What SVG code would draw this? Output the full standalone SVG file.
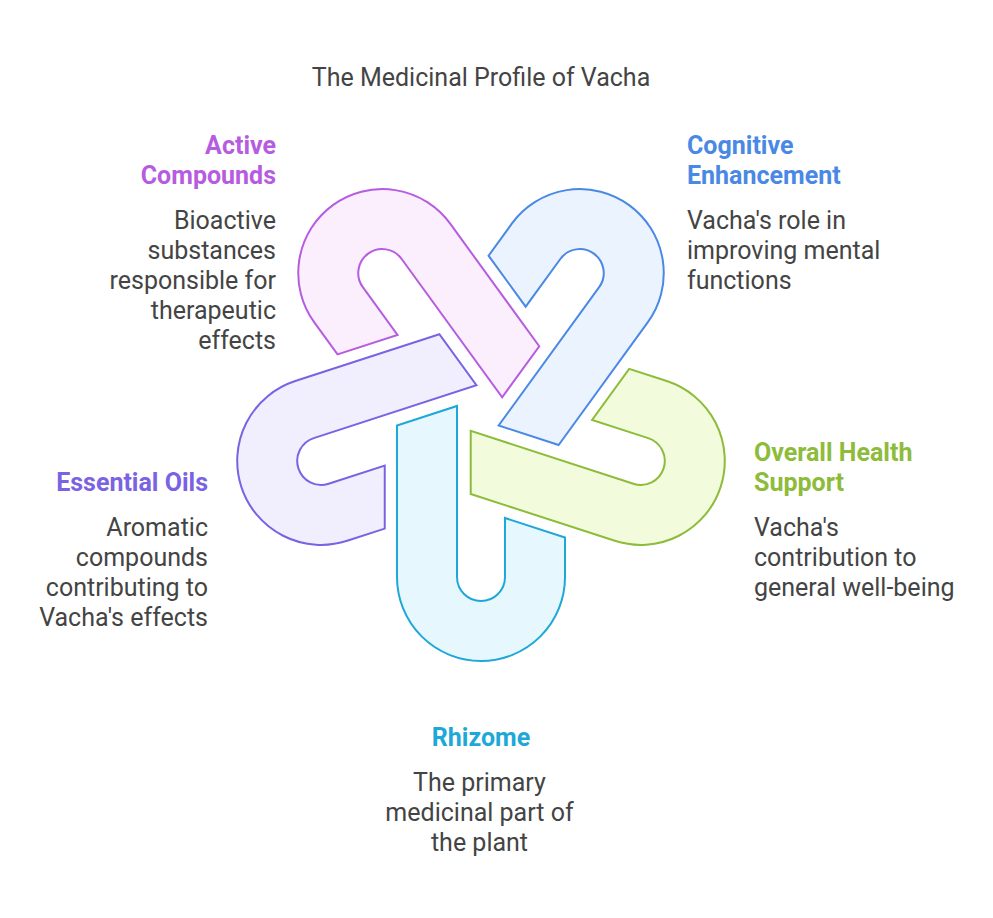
<svg xmlns="http://www.w3.org/2000/svg" width="993" height="918" viewBox="0 0 993 918">
<style>
.t{font-family:Roboto,"Liberation Sans",sans-serif;font-size:25px;fill:#444444}
.h{font-family:Roboto,"Liberation Sans",sans-serif;font-size:25px;font-weight:700}
.s{stroke-width:2;stroke-linejoin:miter}
.r{text-anchor:end}.m{text-anchor:middle}
</style>
<defs>
<path id="hook" d="M -84 16.5 L -84 168 A 84 84 0 0 0 84 168 L 84 128.5 L 24 109 L 24 168 A 24 24 0 0 1 -24 168 L -24 -3 Z"/>
</defs>
<rect width="993" height="918" fill="#ffffff"/>
<text class="t m" x="481" y="85.5">The Medicinal Profile of Vacha</text>
<g transform="translate(481,409)">
<g id="rhizome-shape"><use href="#hook" class="s" fill="#E6F7FD" stroke="#1EA8D8"/></g>
<g id="health-shape"><use href="#hook" class="s" transform="rotate(-72)" fill="#F2FCDC" stroke="#8DBB3A"/></g>
<g id="cognitive-shape"><use href="#hook" class="s" transform="rotate(-144)" fill="#EBF3FE" stroke="#4A88E5"/></g>
<g id="active-shape"><use href="#hook" class="s" transform="rotate(144)" fill="#FBEEFD" stroke="#B65CE0"/></g>
<g id="oils-shape"><use href="#hook" class="s" transform="rotate(72)" fill="#F1EFFD" stroke="#7A63E3"/></g>
</g>
<g id="connectors"></g>
<g id="active">
<text class="h r" x="276" y="153.5" fill="#B65CE0">Active</text>
<text class="h r" x="276" y="183.5" fill="#B65CE0">Compounds</text>
<text class="t r" x="276" y="228.5">Bioactive</text>
<text class="t r" x="276" y="258.5">substances</text>
<text class="t r" x="276" y="288.5">responsible for</text>
<text class="t r" x="276" y="318.5">therapeutic</text>
<text class="t r" x="276" y="348.5">effects</text>
</g>
<g id="cognitive">
<text class="h" x="687" y="153.5" fill="#4A88E5">Cognitive</text>
<text class="h" x="687" y="183.5" fill="#4A88E5">Enhancement</text>
<text class="t" x="687" y="228.5">Vacha's role in</text>
<text class="t" x="687" y="258.5">improving mental</text>
<text class="t" x="687" y="288.5">functions</text>
</g>
<g id="health">
<text class="h" x="754" y="460.5" fill="#8DBB3A">Overall Health</text>
<text class="h" x="754" y="490.5" fill="#8DBB3A">Support</text>
<text class="t" x="754" y="535.5">Vacha's</text>
<text class="t" x="754" y="565.5">contribution to</text>
<text class="t" x="754" y="595.5">general well-being</text>
</g>
<g id="oils">
<text class="h r" x="208" y="490.5" fill="#7A63E3">Essential Oils</text>
<text class="t r" x="208" y="535.5">Aromatic</text>
<text class="t r" x="208" y="565.5">compounds</text>
<text class="t r" x="208" y="595.5">contributing to</text>
<text class="t r" x="208" y="625.5">Vacha's effects</text>
</g>
<g id="rhizome">
<text class="h m" x="481" y="745.5" fill="#1EA8D8">Rhizome</text>
<text class="t m" x="479.5" y="790.5">The primary</text>
<text class="t m" x="479.5" y="820.5">medicinal part of</text>
<text class="t m" x="479.5" y="850.5">the plant</text>
</g>
</svg>
